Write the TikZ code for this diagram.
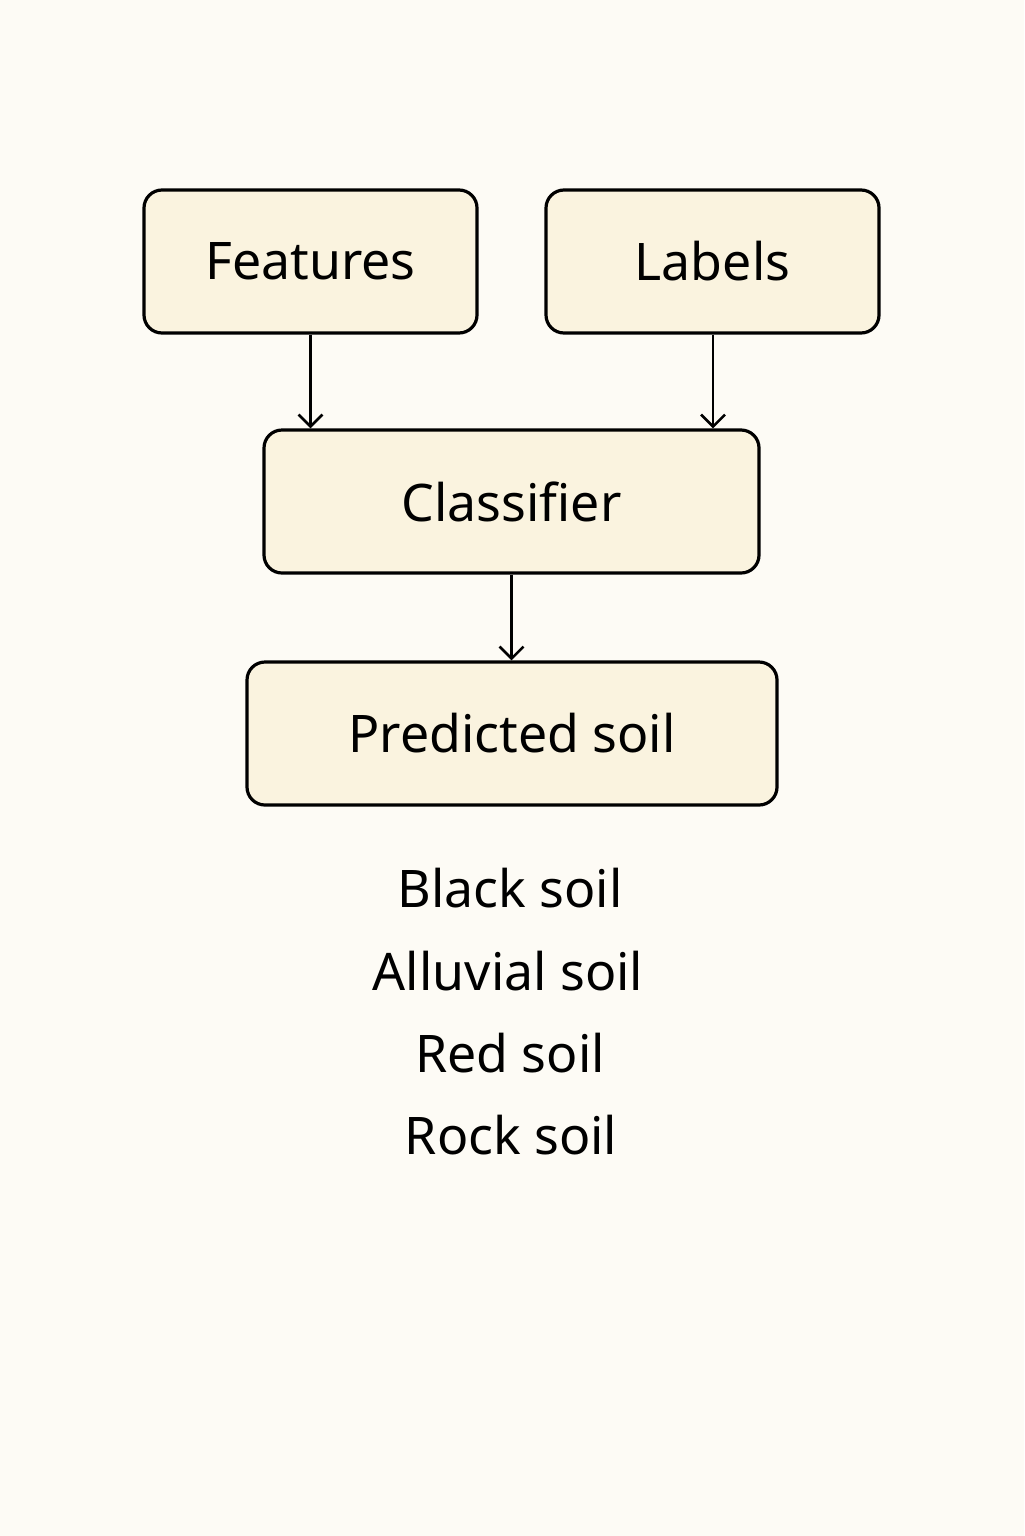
\documentclass[tikz,border=0pt]{standalone}
\usepackage{fontspec}
\setmainfont{Noto Sans}
\usetikzlibrary{arrows.meta}
\definecolor{pagebg}{HTML}{FDFBF5}
\definecolor{boxfill}{HTML}{FAF3DF}
\tikzset{
  soilbox/.style={draw=black,fill=boxfill,line width=3.2bp,rounded corners=18bp,
    minimum height=143bp,inner sep=0pt,font=\fontsize{52}{62}\selectfont},
  soiltext/.style={draw=none,font=\fontsize{52}{62}\selectfont},
}
\begin{document}
\begin{tikzpicture}[>={Straight Barb[length=12bp,width=24bp]},line join=bevel,x=1bp,y=-1bp]
%%
\fill [pagebg] (0,0) rectangle (1024,1536);
\useasboundingbox (0,0) rectangle (1024,1536);
\node (node_feat) at (310.5bp,-261.5bp) [soilbox,minimum width=333bp] {Features};
  \node (node_lab) at (712.5bp,-261.5bp) [soilbox,minimum width=333bp] {Labels};
  \node (node_clf) at (511.5bp,-501.5bp) [soilbox,minimum width=495bp] {Classifier};
  \node (node_pred) at (512bp,-733.5bp) [soilbox,minimum width=530bp] {Predicted soil};
  \node (node_black) at (510bp,-888bp) [soiltext] {Black soil};
  \node (node_alluv) at (508bp,-971bp) [soiltext] {Alluvial soil};
  \node (node_red) at (510bp,-1053bp) [soiltext] {Red soil};
  \node (node_rock) at (511bp,-1135bp) [soiltext] {Rock soil};
  \draw [black,line width=2.6bp,->] (node_feat.south) -- (node_feat.south |- node_clf.north);
  \draw [black,line width=2.6bp,->] ([xshift=0.5bp]node_lab.south) -- ([xshift=0.5bp]node_lab.south |- node_clf.north);
  \draw [black,line width=2.6bp,->] (node_clf.south) -- (node_clf.south |- node_pred.north);
%
\end{tikzpicture}
\end{document}
